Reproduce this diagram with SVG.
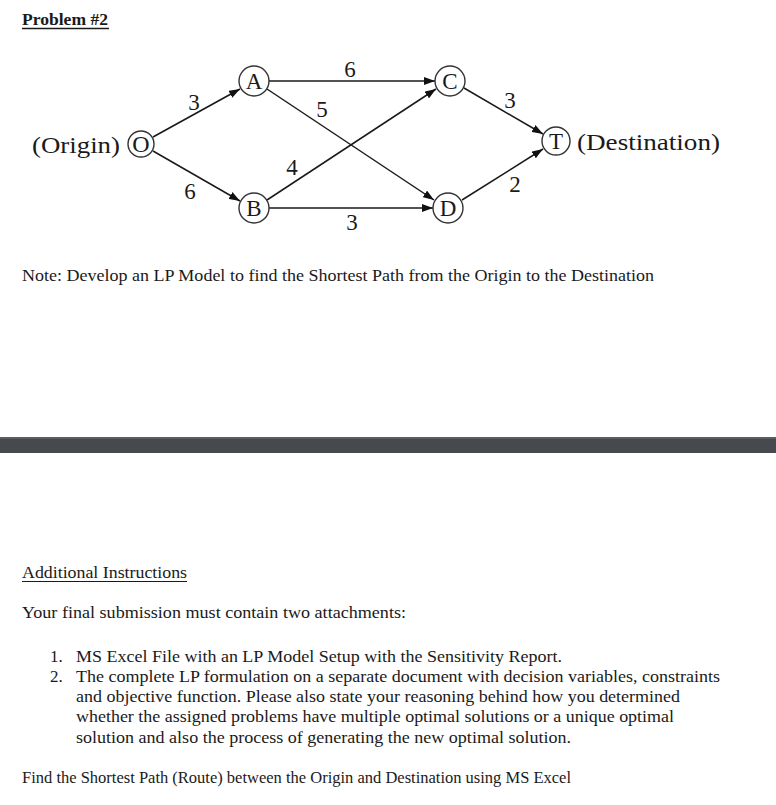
<svg xmlns="http://www.w3.org/2000/svg" width="776" height="805" viewBox="0 0 776 805">
<style>
text{font-family:"Liberation Serif","Times New Roman",serif;fill:#1a1a1a}
.node circle{fill:#fff;stroke:#333;stroke-width:1.4}
.node text{font-size:23px;text-anchor:middle}
.edge{stroke:#1a1a1a;stroke-width:1.5;fill:none;marker-end:url(#arr)}
.lbl{font-size:23px;text-anchor:middle}
.big{font-size:25px}
.body{font-size:17px}
</style>
<defs>
<marker id="arr" markerUnits="userSpaceOnUse" markerWidth="11" markerHeight="8" refX="11" refY="4" orient="auto">
<path d="M0,0 L11,4 L0,8 z" fill="#111"/>
</marker>
</defs>
<rect width="776" height="805" fill="#fff"/>
<text x="22" y="25" style="font-size:17.5px;font-weight:bold" textLength="86" lengthAdjust="spacingAndGlyphs">Problem #2</text>
<line x1="22" y1="28.5" x2="109" y2="28.5" stroke="#1a1a1a" stroke-width="1.3"/>
<g id="connectors">
<line class="edge" x1="153" y1="137" x2="240" y2="89"/>
<line class="edge" x1="153" y1="151" x2="240" y2="201"/>
<line class="edge" x1="269" y1="81" x2="435" y2="81"/>
<line class="edge" x1="267" y1="89" x2="434" y2="200"/>
<line class="edge" x1="267" y1="200" x2="436" y2="89"/>
<line class="edge" x1="269" y1="208" x2="433" y2="208"/>
<line class="edge" x1="464" y1="88" x2="543" y2="134"/>
<line class="edge" x1="462" y1="200" x2="543" y2="149"/>
<text class="lbl" x="194" y="110">3</text>
<text class="lbl" x="190" y="199">6</text>
<text class="lbl" x="350" y="77">6</text>
<text class="lbl" x="322" y="117">5</text>
<text class="lbl" x="292" y="175">4</text>
<text class="lbl" x="352" y="230">3</text>
<text class="lbl" x="510" y="108">3</text>
<text class="lbl" x="515" y="192">2</text>
</g>
<g id="node-O" class="node">
<text class="big" x="32" y="153" style="text-anchor:start" textLength="88" lengthAdjust="spacingAndGlyphs">(Origin)</text>
<circle cx="141" cy="144" r="13"/>
<text x="141" y="152" style="font-size:24px">O</text>
</g>
<g id="node-A" class="node"><circle cx="254" cy="81" r="15"/><text x="254" y="89">A</text></g>
<g id="node-B" class="node"><circle cx="254" cy="208" r="15"/><text x="254" y="216">B</text></g>
<g id="node-C" class="node"><circle cx="450" cy="81" r="15"/><text x="450" y="89">C</text></g>
<g id="node-D" class="node"><circle cx="448" cy="208" r="15"/><text x="448" y="216">D</text></g>
<g id="node-T" class="node">
<circle cx="556" cy="141" r="14"/><text x="556" y="149">T</text>
<text class="big" x="577" y="150" style="text-anchor:start" textLength="143" lengthAdjust="spacingAndGlyphs">(Destination)</text>
</g>
<text class="body" x="22" y="281" textLength="632" lengthAdjust="spacingAndGlyphs">Note: Develop an LP Model to find the Shortest Path from the Origin to the Destination</text>
<rect x="0" y="437" width="776" height="16" fill="#46494e"/>
<rect x="0" y="437" width="776" height="2" fill="#5a5d62"/>
<text class="body" x="22" y="578" textLength="165" lengthAdjust="spacingAndGlyphs">Additional Instructions</text>
<line x1="22" y1="581.5" x2="187" y2="581.5" stroke="#1a1a1a" stroke-width="1"/>
<text class="body" x="22" y="618" textLength="384" lengthAdjust="spacingAndGlyphs">Your final submission must contain two attachments:</text>
<text class="body" x="50" y="662">1.</text>
<text class="body" x="76" y="662" textLength="486" lengthAdjust="spacingAndGlyphs">MS Excel File with an LP Model Setup with the Sensitivity Report.</text>
<text class="body" x="50" y="682">2.</text>
<text class="body" x="76" y="682" textLength="644" lengthAdjust="spacingAndGlyphs">The complete LP formulation on a separate document with decision variables, constraints</text>
<text class="body" x="76" y="702" textLength="604" lengthAdjust="spacingAndGlyphs">and objective function. Please also state your reasoning behind how you determined</text>
<text class="body" x="76" y="722" textLength="598" lengthAdjust="spacingAndGlyphs">whether the assigned problems have multiple optimal solutions or a unique optimal</text>
<text class="body" x="76" y="743" textLength="495" lengthAdjust="spacingAndGlyphs">solution and also the process of generating the new optimal solution.</text>
<text class="body" x="22" y="783" textLength="549" lengthAdjust="spacingAndGlyphs">Find the Shortest Path (Route) between the Origin and Destination using MS Excel</text>
</svg>
